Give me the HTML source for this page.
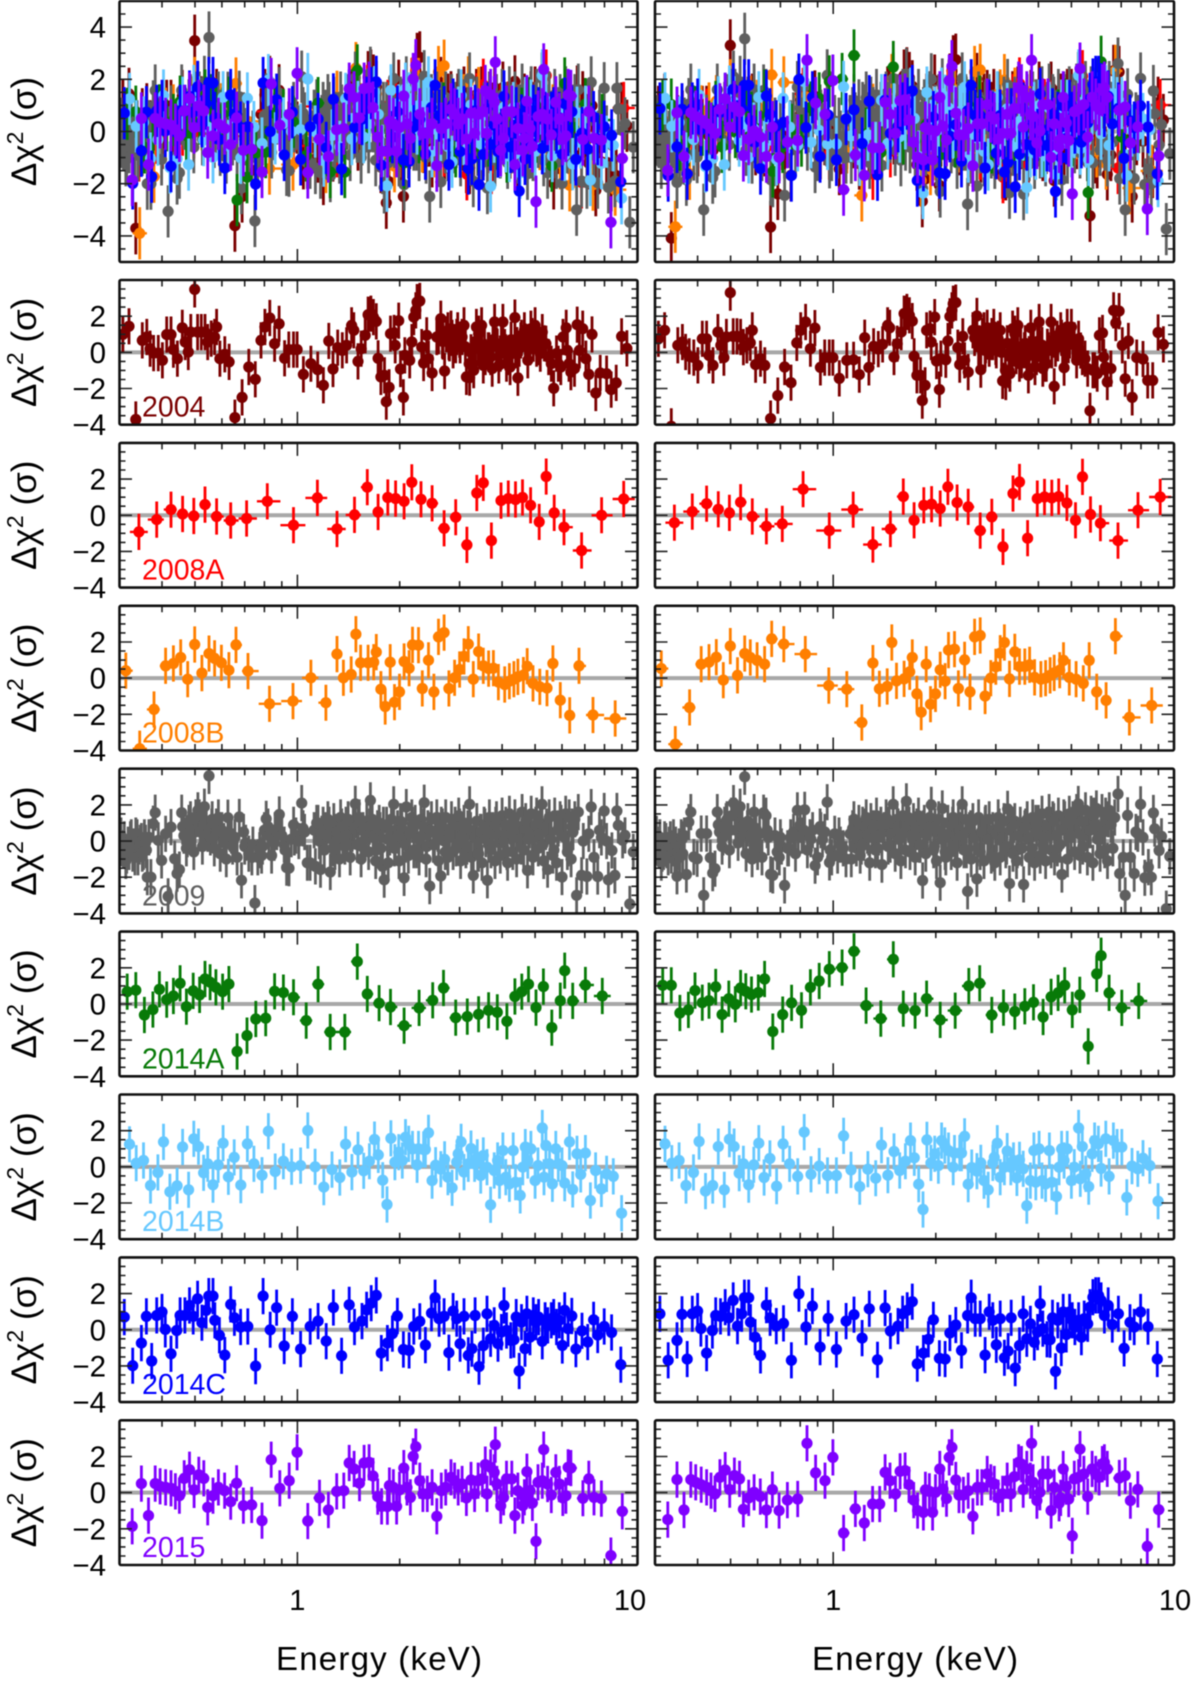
<!DOCTYPE html>
<html lang="en">
<head>
<meta charset="utf-8">
<title>Residuals by epoch</title>
<style>
html,body{margin:0;padding:0;background:#fff;width:1200px;height:1684px;overflow:hidden}
svg{display:block;filter:blur(.6px)}
text{font-family:"Liberation Sans","DejaVu Sans",sans-serif}
</style>
</head>
<body>
<svg id="chart" xmlns="http://www.w3.org/2000/svg" width="1200" height="1684" viewBox="0 0 1200 1684">
<text x="379" y="1670" font-size="33" text-anchor="middle" textLength="206" fill="#000">Energy (keV)</text>
<text x="915" y="1670" font-size="33" text-anchor="middle" textLength="206" fill="#000">Energy (keV)</text>
</svg>
<script>
const energies2004=[.307,.320,.335,.350,.361,.369,.378,.390,.401,.413,
.425,.432,.444,.459,.468,.478,.486,.499,.509,.522,
.535,.545,.558,.571,.579,.592,.612,.630,.655,.688,
.720,.752,.782,.803,.830,.857,.884,.917,.944,.974,
.998,1.042,1.096,1.148,1.193,1.237,1.273,1.314,1.356,1.396,
1.444,1.465,1.508,1.541,1.583,1.614,1.645,1.673,1.706,1.727,
1.760,1.804,1.826,1.861,1.879,1.925,1.939,1.986,2.01,2.05,
2.07,2.14,2.17,2.20,2.23,2.25,2.29,2.32,2.35,2.40,
2.43,2.49,2.57,2.64,2.71,2.77,2.83,2.89,2.96,3.01,
3.09,3.14,3.21,3.30,3.36,3.41,3.48,3.57,3.64,3.74,
3.80,3.85,3.95,4.02,4.12,4.22,4.36,4.38,4.45,4.54,
4.65,4.76,4.86,5.00,5.10,5.25,5.38,5.48,5.67,5.85,
6.04,6.17,6.22,6.37,6.53,6.65,6.75,6.90,7.05,7.19,
7.35,7.54,7.77,8.11,8.37,8.66,8.98,9.31,
2.67,2.79,2.87,2.94,3.05,3.20,3.28,3.40,3.52,3.70,
3.91,4.07,4.17,4.28,4.49,4.71,4.83,4.94,5.18,5.58,
5.78,5.95,6.29,
2.60,2.68,2.74,2.80,2.85,2.92,3.00,3.12,3.24,3.34,
3.44,3.55,3.66,3.76,3.87,3.98,4.10,4.25,4.42,4.56,
4.68,4.90,5.05,5.32];
const left2004=[.99,1.44,-3.71,.66,.85,.20,-.04,-.04,-.44,.98,
.98,.15,-.35,1.36,.57,.02,1.12,3.48,1.12,1.12,
1.12,.57,.76,.85,1.40,-.35,-.11,-.53,-3.61,-2.49,
-.81,-1.49,.66,1.40,1.90,.48,1.58,-.33,.15,.15,
.15,-1.22,-.63,-.96,-1.82,.63,-.92,.26,.11,.39,
1.49,1.22,-.50,.20,.94,2.08,2.14,1.95,1.71,-.33,
-1.36,-1.27,-2.73,-1.93,1.03,1.07,.39,1.75,-.92,-2.49,
-.17,-.44,.57,1.95,2.32,2.78,2.84,.29,-.59,.94,
-.35,-1.14,.85,1.86,-1.03,1.22,1.31,.57,1.22,.39,
1.49,-1.36,-1.40,-.99,1.40,1.03,1.49,-.26,.11,-.90,
1.68,.39,-.07,1.68,-.63,-.81,1.92,.11,-1.41,.66,
1.22,-.44,1.31,1.49,.29,1.12,.48,-.26,-1.99,-.63,
.85,1.36,.11,-1.09,-.90,1.53,.11,1.31,-.35,-1.22,
.99,-2.25,-1.14,-1.18,-2.06,-1.69,.88,.22,
.66,.57,.11,.85,.85,-.63,-.63,.29,-.72,-.26,
-.72,.29,-.26,-.07,.20,.57,.29,.48,-.07,-.63,
-.07,-.81,-.63,
.9,.6,1.0,.5,.8,.4,.7,.3,0,.6,
.2,.4,.1,.7,.3,.5,0,.7,.4,.8,
.6,.9,.2,.5];
const right2004=[.75,1.22,-4.09,.39,.57,.02,-.22,-.29,-.72,.75,
.75,-.17,-.72,1.12,.39,-.29,.85,3.30,.88,.88,
.85,.29,.39,.53,1.22,-.68,-.35,-.72,-3.66,-2.39,
-.81,-1.68,.52,1.22,1.68,.20,1.34,-.83,-.29,-.29,
-.29,-1.44,-.44,-.41,-1.23,.81,-.83,.33,.18,.44,
1.49,1.36,-.26,.48,1.12,2.14,2.23,2.05,1.73,-.22,
-1.27,-1.27,-2.67,-1.82,1.22,1.31,.57,1.95,-.48,-2.06,
-.35,-.41,.63,1.99,2.32,2.69,2.75,.26,-.68,.88,
-.44,-1.09,1.22,2.01,-.96,1.22,1.36,.57,1.40,.11,
1.22,-1.58,-1.64,-1.18,1.31,1.03,1.49,-.44,.11,-1.27,
1.36,.39,-.26,1.68,-.90,-.63,1.68,.11,-1.88,.75,
1.22,-.85,1.40,1.40,.66,.75,-.26,-.35,-3.23,-.99,
.94,1.07,-.26,-1.64,-.90,2.32,1.62,2.28,.39,-1.46,
.63,-2.49,-.29,-.37,-1.55,-1.55,1.10,.44,
.29,.11,.20,.57,.75,-.99,-.99,.20,-.63,-.26,
-.81,.20,-.63,.11,.20,.29,.39,.66,-.44,-.90,
-.99,-1.18,-.81,
.8,.5,.9,.4,.6,.9,.3,0,.5,.1,
-.2,.3,.5,-.1,.2,.6,.4,.3,.7,.5,
.8,.4,.6,.1];

const energies2008A=[.342,.386,.425,.460,.496,.535,.579,.637,.709,.816,
.974,1.145,1.308,1.472,1.606,1.727,1.844,1.944,2.06,2.17,
2.31,2.49,2.70,2.92,3.15,3.37,3.52,3.72,3.97,4.17,
4.38,4.59,4.85,5.14,5.39,5.69,6.08,6.85,7.84,9.11];
const left2008A=[-.92,-.24,.31,.07,-.04,.59,-.07,-.29,-.18,.77,
-.55,.96,-.76,.02,1.55,.18,.98,.92,.77,1.82,
.88,.66,-.72,-.11,-1.64,1.23,1.79,-1.40,.81,.92,
.87,.98,.55,-.37,2.14,.13,-.66,-1.95,0,.90];
const right2008A=[-.41,.20,.64,.33,.13,.72,-.07,-.61,-.48,1.44,
-.85,.31,-1.62,-.76,1.03,-.28,.55,.61,.37,1.57,
.70,.46,-.85,-.09,-1.75,1.20,1.84,-1.27,.92,1.01,
.96,1.03,.68,-.28,2.12,.04,-.44,-1.40,.28,1.01];

const energies2008B=[.313,.344,.379,.410,.432,.454,.476,.499,.524,.550,
.571,.598,.629,.660,.716,.828,.971,1.096,1.213,1.308,
1.366,1.440,1.486,1.534,1.614,1.677,1.706,1.760,1.812,1.875,
1.930,1.996,2.06,2.13,2.18,2.27,2.33,2.43,2.52,2.60,
2.70,2.79,2.90,3.00,3.09,3.18,3.29,3.41,3.52,3.65,
3.77,3.90,4.07,4.20,4.33,4.45,4.62,4.74,4.93,5.16,
5.42,5.64,5.93,6.32,6.73,7.40,8.60];
const left2008B=[.41,-3.90,-1.73,.68,.81,1.14,-.06,1.86,.28,1.36,
1.09,.85,.44,1.84,.39,-1.42,-1.27,.02,-1.36,1.33,
.02,.20,2.43,.85,.85,.88,1.44,-.61,-1.57,.88,
-1.33,-.76,.92,.55,1.84,1.82,-.57,.99,-.76,2.28,
2.52,-.57,.02,.48,1.20,1.88,-.06,1.47,.68,.53,
.55,-.22,-.35,-.17,-.06,.07,.17,.66,-.29,-.48,
-.55,.81,-1.22,-2.06,.68,-2.04,-2.23];
const right2008B=[.53,-3.65,-1.62,.77,.88,1.16,-.11,1.77,.15,1.36,
1.14,.98,.77,2.17,1.88,1.33,-.41,-.61,-2.45,.83,
-.59,-.46,1.97,-.15,-.04,.35,1.14,-.87,-1.88,.77,
-1.44,-.87,.46,-.17,1.55,1.60,-.57,1.01,-.76,2.28,
2.36,-.99,0,.63,1.38,1.97,-.04,1.45,.64,.64,
.74,.04,-.06,0,.15,.29,.44,.98,.04,-.06,
-.29,.98,-.76,-1.23,2.32,-2.17,-1.51];

const energies2009=[.303,.308,.313,.318,.323,.328,.333,.338,.343,.348,.353,.358,.362,.366,.371,
.377,.382,.39,.399,.41,.417,.425,.436,
.443,.45,.457,.464,.472,.48,.488,.496,.503,.51,
.518,.526,.533,.54,.55,.555,.562,.57,.578,.586,
.593,.6,.608,.618,
.625,.635,.645,.655,.665,.675,.685,.695,.705,.72,
.735,.75,.765,.775,.785,.8,.81,.825,.84,.855,
.87,.885,.9,.915,.93,.945,.96,.975,.99,1.01,
1.03,1.05,1.07,1.09,
1.12,1.13,1.15,1.16,1.17,1.19,1.20,1.22,1.23,1.25,
1.26,1.28,1.29,1.31,1.33,1.34,1.36,1.38,1.39,1.41,
1.43,1.45,1.46,1.48,1.50,1.52,1.54,1.56,1.58,1.60,
1.62,1.64,1.66,1.68,1.70,1.72,1.74,1.76,1.78,1.80,
1.83,1.85,1.87,1.89,1.92,1.94,1.97,1.99,2.01,2.04,
2.06,2.09,2.12,2.14,2.17,2.20,2.22,2.25,2.28,2.31,
2.33,2.36,2.39,2.42,2.45,2.48,2.51,2.54,2.57,2.60,
2.64,2.67,2.70,2.73,2.77,2.80,2.84,2.87,2.91,2.94,
2.98,3.02,3.05,3.09,3.13,3.17,3.21,3.25,3.29,3.33,
3.37,3.41,3.45,3.49,3.54,3.58,3.62,3.67,3.71,3.76,
3.81,3.85,3.90,3.95,4.00,4.05,4.10,4.15,4.20,4.25,
4.30,4.36,4.41,4.46,4.52,4.58,4.63,4.69,4.75,4.81,
4.87,4.93,4.99,5.05,5.11,5.18,5.24,5.30,5.37,5.44,
5.50,5.57,5.64,5.71,5.78,5.85,5.92,6.00,6.07,6.15,
6.22,6.30,6.38,6.46,6.54,6.62,6.70,
6.85,6.93,7.10,7.19,7.31,7.45,7.64,7.73,7.83,7.98,
8.11,8.21,8.41,8.58,8.70,8.78,9.04,9.19,9.49,9.72,
.305,.31,.315,.32,.325,.33,.335,.34,.345,.35,.355,.36,
.46,.475,.485,.5,.515,.53,.545,.56,.575,.59,
.64,.70,.74,.79,.82,.86,.92,.98,1.04,
1.14,1.18,1.21,1.24,1.27,1.30,1.35,1.40,1.44,1.47,
1.51,1.55,1.59,1.63,1.67,1.71,1.75,1.79,1.84,1.88,
1.93,1.98,2.03,2.08,2.13,2.18,2.24,2.30,2.35,2.40,
2.46,2.53,2.59,2.65,2.72,2.79,2.86,2.93,3.00,3.07,
3.15,3.23,3.31,3.39,3.47,3.56,3.65,3.74,3.83,3.93,
4.03,4.13,4.23,4.33,4.44,4.55,4.66,4.78,4.90,5.02,
5.15,5.27,5.40,5.54,5.68,5.82,5.96,6.11,6.26,6.42];
const left2009=[.3,-.5,-1.1,-.2,.1,-.7,-.9,.2,-.3,0,-.6,-.1,-2.0,.2,-2.0,
.96,1.57,.04,-1.07,.4,-3.06,.77,-.98,
-1.8,-1.58,1.57,.3,-.4,1.0,.6,-.6,1.3,1.7,
.5,-.3,1.9,.9,3.6,.2,1.2,-.4,.8,1.3,
-.7,.6,0,-1.0,
1.29,.4,-.3,.2,-.9,1.33,-2.17,.5,-.1,-.7,
-.9,-3.43,-.9,-.5,-.8,.6,1.23,.3,-.8,-.1,
.5,1.47,.3,-.2,-1.47,-1.5,.1,.9,.3,0,
2.1,.5,-1.2,-1.2,
.6,-1.4,1.0,0,-1.58,.9,-.5,.3,1.2,-1.71,
.1,1.1,-.6,.5,-1.0,1.3,.2,-.3,.9,1.2,
-.9,.4,1.0,2.06,-.2,1.3,-1.0,.6,.1,1.1,
-.6,2.25,1.2,.3,-1.1,.7,1.0,-.4,-1.4,-2.14,
.9,-1.2,.2,1.2,2.03,-.3,.7,-1.1,1.1,.1,
-2.04,1.88,-.8,.4,1.3,-.5,1.0,.2,-.9,1.2,
.3,2.12,-1.0,.7,-2.49,1.2,-.2,.5,1.3,-1.1,
-1.93,.8,0,1.3,-.9,.4,1.2,-.6,.9,-.2,
1.4,-1.1,.3,1.0,-.5,.7,2.03,-.9,-1.9,.2,
1.1,-.7,.5,-1.2,.9,.1,-2.17,1.3,-.5,.6,
-1.1,1.2,.3,-.8,1.4,0,.9,-1.2,1.5,.4,
-.6,1.3,-1.0,.8,.1,1.6,-.5,1.1,-1.62,.6,
1.5,-.9,.2,1.4,-.4,1.0,2.03,-1.1,.5,-1.58,
1.3,.1,-.8,1.4,-1.2,.7,1.2,-1.99,.3,1.5,
-.6,1.3,-1.0,.5,1.2,-3.0,1.6,
-1.9,0,-1.96,.4,1.88,-.9,-1.96,.6,.2,1.66,
0,-2.14,-.52,-1.9,1.66,.87,.04,.31,-3.48,-.6,
-.4,.1,-.8,-.6,.2,-.3,.3,-.9,-.1,-.7,.2,-.5,
.8,.1,1.2,.5,1.3,.9,.4,.8,.3,.6,
.3,-.3,-.2,-.3,.8,.6,-.5,.2,.7,
1.0,.4,.6,.9,-.4,.5,.8,.3,-.2,.7,
.9,-.3,.4,.8,.2,-.5,.6,.9,.1,.5,
-.4,.3,.7,-.2,.5,.9,-.5,.2,.8,-.3,
.6,-.2,.4,.9,-.6,.2,.5,-.4,.8,.1,
-.3,.6,.2,-.7,.5,.8,-.2,.4,.9,-.1,
.3,-.6,.8,.2,.5,-.3,.7,.1,-.8,.9,
.4,-.2,.8,.1,-.5,.6,1.0,.2,-.4,.8];
const right2009=[.4,-.4,-1.2,-.6,0,-.9,.1,-.4,-1.1,-1.95,-.3,.2,-.7,.3,-1.85,
1.05,1.6,-.88,-.98,.41,-3.0,.41,-.92,
-1.77,-1.53,1.6,.5,-.3,.9,1.2,-.5,1.4,2.1,
.6,-.1,1.9,.8,3.55,-.7,1.1,.3,-1.0,1.6,
.7,-.6,.4,-.9,
1.57,1.4,.2,-1.84,-1.9,.3,-.6,-.9,-.3,-2.45,
-.4,.2,.5,-.7,1.7,.9,.3,1.73,-.5,.2,
.6,-1.36,-.9,.8,.1,.5,2.15,-1.18,-.9,.4,
-.8,-.2,-.4,-1.0,
.4,-1.0,1.2,.5,-.4,1.0,-.8,.9,-.1,1.3,
.3,-1.2,1.1,.7,-.5,1.4,.2,.9,-1.3,.6,
1.3,-.3,.9,.4,2.03,-.7,1.2,.1,-1.1,1.4,
.5,2.2,1.3,-.6,.3,1.1,-.9,.8,1.4,-.2,
-2.18,1.0,-.7,.4,1.3,2.0,-.5,.8,-1.1,1.2,
-2.3,1.8,.3,-.9,1.0,.2,-.6,1.3,0,-1.2,
.9,.3,2.03,-.5,1.2,-2.78,.6,-1.0,1.1,.2,
-2.09,1.3,-.6,.5,-1.1,1.0,.1,1.2,-.8,.6,
-1.2,.4,1.3,-.9,0,1.1,-.5,1.78,-2.35,.7,
-.7,1.1,-1.1,.3,.9,-.4,-2.4,.8,1.2,-.9,
.2,1.3,-1.2,.5,1.0,-.8,1.5,.2,-1.1,.9,
1.6,-.5,1.2,-.9,.3,1.4,-.2,-1.85,1.3,.7,
-1.0,1.5,.4,1.2,-.6,1.6,2.05,-.8,1.1,.3,
1.7,-.9,.6,1.5,-1.2,.9,1.8,.2,-.7,1.6,
.5,1.4,-1.1,1.7,.9,-.4,1.3,
2.6,-1.8,-.9,-3.0,1.42,-.9,-1.8,.5,.4,2.03,
.2,-2.03,-1.44,-2.0,1.55,.68,-.52,.26,-3.74,-.85,
-.2,.2,-.7,.1,-.5,-.2,-.8,.2,-.2,-.6,-.9,.1,
.9,.2,1.1,.6,1.4,1.0,.3,.7,.2,-.2,
.6,.2,-.4,.3,.6,.1,.6,-.5,.3,
.7,.1,-.3,.8,.2,.6,-.4,.5,.9,-.2,
.4,.8,.3,-.5,.9,.1,.5,-.2,.7,.3,
.8,-.3,.5,.1,-.6,.4,.9,-.2,.6,.3,
-.5,.7,.2,-.4,.5,.9,.1,-.7,.4,.8,
.2,-.3,.6,.9,-.5,.3,.7,.1,-.4,1.0,
.5,-.2,.8,.3,1.1,-.4,.6,1.2,.2,.9,
1.3,.4,-.3,1.0,.6,1.4,.1,.8,-.5,1.2];

const energies2014A=[.316,.335,.355,.376,.393,.413,.432,.452,.472,.494,
.516,.535,.554,.576,.603,.629,.665,.711,.755,.807,
.857,.910,.974,1.062,1.151,1.249,1.379,1.501,1.606,1.739,
1.879,2.06,2.28,2.50,2.69,2.92,3.16,3.41,3.65,3.87,
4.13,4.36,4.57,4.78,5.03,5.29,5.60,5.93,6.11,6.45,
7.03,7.88];
const left2014A=[.68,.76,-.61,-.31,.81,.24,.44,1.14,-.15,.72,
.50,1.38,1.20,.92,.68,1.10,-2.63,-1.75,-.83,-.79,
.70,.63,.37,-.92,1.09,-1.55,-1.55,2.34,.55,.04,
-.17,-1.20,-.22,.20,.88,-.76,-.70,-.57,-.35,-.46,
-.96,.41,.68,1.09,-.20,.96,-1.31,.18,1.84,.17,
1.05,.44];
const right2014A=[1.03,1.03,-.50,-.33,.74,.07,.18,.94,-.59,.29,
-.02,.88,.70,.52,.63,1.38,-1.53,-.59,.06,-.35,
.92,1.27,1.92,2.01,2.91,-.09,-.81,2.47,-.26,-.37,
.29,-.88,-.37,.99,1.14,-.61,-.20,-.42,-.13,.09,
-.72,.39,.61,1.03,-.33,.50,-2.34,1.66,2.67,.61,
-.22,.17];

const energies2014B=[.321,.336,.353,.370,.389,.404,.422,.443,.460,.479,
.496,.512,.530,.545,.565,.585,.605,.627,.652,.682,
.713,.745,.787,.822,.861,.910,.962,1.022,1.073,1.128,
1.196,1.264,1.333,1.386,1.447,1.508,1.567,1.629,1.686,1.730,
1.782,1.835,1.884,1.935,1.986,2.035,2.08,2.125,2.18,2.25,
2.27,2.35,2.38,2.43,2.49,2.55,2.64,2.71,2.77,2.85,
2.94,2.97,3.03,3.09,3.18,3.24,3.32,3.38,3.46,3.52,
3.61,3.70,3.79,3.88,3.93,4.02,4.10,4.20,4.31,4.38,
4.52,4.60,4.68,4.76,4.86,5.00,5.10,5.25,5.31,5.38,
5.51,5.62,5.75,5.85,6.00,6.11,6.31,6.45,6.64,6.81,
7.03,7.27,7.53,7.83,8.11,8.49,8.98];
const left2014B=[1.25,.20,.35,-1.03,-.31,1.38,-1.38,-1.05,1.10,-1.27,
1.55,1.12,-.33,.17,-.99,.11,1.31,-.55,.52,-1.01,
1.27,.17,-.46,1.97,-.26,.31,0,.07,2.01,0,
-1.12,-.15,-.59,1.25,-.29,.94,-.22,.31,1.51,.66,
-.74,-2.08,1.58,.26,.81,.35,1.64,1.27,.99,.11,
.99,.96,.96,1.88,-.76,.09,-.13,.41,-.57,-1.16,
.26,.72,1.38,-.29,.17,1.01,.17,.53,-.48,.63,
-.02,-2.10,-.20,.35,-.76,.90,-.57,-.94,.90,-.85,
-1.58,-.02,1.09,.35,.99,-.76,.07,2.15,-.57,1.18,
.17,-.94,.99,.17,.07,-.90,1.38,-1.25,.72,-.42,
.76,-1.86,-.20,-1.22,-.39,-.53,-2.56];
const right2014B=[1.27,.20,.35,-1.03,-.31,1.40,-1.34,-1.03,1.12,-1.27,
1.53,1.12,-.35,.17,-.99,.11,1.31,-.59,.46,-1.07,
1.27,.17,-.53,1.92,-.41,.04,-.48,-.48,1.71,-.17,
-1.09,-.13,-.63,1.20,-.46,.85,-.20,.31,1.45,.50,
-.96,-2.36,1.49,.22,.72,.07,1.45,1.18,.90,-.02,
.76,.76,.76,1.69,-.96,-.04,-.24,.22,-.76,-1.27,
.22,.53,1.31,-.57,-.02,.87,-.02,.35,-.61,.39,
-.11,-2.15,-.76,.90,-.85,.99,-.76,-.94,.90,-.85,
-1.64,-.02,.99,.35,.99,-.76,-.02,2.15,-.66,1.12,
-.39,-1.09,.72,1.45,1.27,-.09,1.55,-.53,1.45,1.09,
1.09,-1.69,.04,-.11,.48,.07,-1.90];

const energies2014C=[.310,.328,.348,.360,.373,.386,.400,.409,.425,.442,
.452,.467,.482,.494,.509,.524,.539,.549,.565,.572,
.590,.612,.637,.653,.681,.715,.754,.793,.832,.869,
.915,.967,1.022,1.091,1.151,1.216,1.276,1.349,1.420,1.472,
1.549,1.598,1.649,1.706,1.765,1.839,1.903,1.968,2.05,2.13,
2.20,2.29,2.38,2.48,2.54,2.61,2.70,2.79,2.87,2.94,
3.01,3.09,3.18,3.26,3.33,3.42,3.52,3.61,3.70,3.79,
3.89,3.98,4.05,4.12,4.24,4.33,4.40,4.49,4.56,4.67,
4.73,4.83,4.94,5.03,5.12,5.25,5.35,5.45,5.58,5.67,
5.78,5.89,6.01,6.11,6.25,6.41,6.59,6.87,7.14,7.43,
7.64,7.98,8.39,8.93];
const left2014C=[.70,-1.99,-.74,.74,-1.73,.79,.98,.02,-1.33,-.04,
.79,.79,1.34,.74,1.71,.39,1.07,1.86,1.86,.52,
-.31,-1.40,1.40,.66,.15,.18,-2.01,1.86,0,1.22,
-.90,.74,-1.07,.18,.48,-.63,1.23,-1.44,1.38,.15,
.48,1.10,1.47,1.90,-1.29,-.74,-.22,.76,-1.09,-1.14,
.18,.46,-.85,.92,1.77,.61,.74,-1.27,1.03,.61,
-.77,.74,-1.42,-1.05,.79,-2.04,-.88,.88,-.50,.24,
-.77,-.13,1.34,-.04,-.59,-.55,.70,-2.28,.42,-1.05,
.88,-.41,.79,.42,.70,-.64,.52,.24,.52,.70,
.15,.52,-.87,1.07,.06,.76,-1.07,-.06,-.68,.55,
-.29,.18,-.15,-1.93];
const right2014C=[.88,-1.69,-.59,.85,-1.62,.88,1.03,.07,-1.29,-.04,
.79,.74,1.25,.66,1.62,.20,.88,1.77,1.77,.42,
-.41,-1.42,1.36,.66,.20,.35,-1.69,1.99,.15,1.31,
-.96,.63,-1.09,.48,.83,-.46,1.16,-1.66,1.20,-.07,
.20,.88,1.07,1.55,-1.88,-1.29,-.53,.55,-1.58,-1.62,
-.18,.26,-1.14,.79,1.77,.61,.61,-1.40,.99,.52,
-.83,.61,-1.55,-1.18,.66,-2.12,-.87,.88,-.50,.33,
-.70,-.13,1.44,.06,-.53,-.55,.66,-2.30,.52,-1.01,
.98,-.26,.98,.52,.15,.52,-.41,.61,.33,1.25,
1.80,1.90,1.90,1.62,.79,1.34,.29,.88,-1.03,.41,
.15,.98,.17,-1.62];

const energies2015=[.327,.348,.365,.382,.395,.410,.425,.438,.450,.465,
.482,.497,.513,.531,.545,.565,.586,.611,.637,.663,
.694,.734,.787,.838,.888,.946,.998,1.073,1.162,1.234,
1.305,1.369,1.420,1.468,1.523,1.571,1.625,1.669,1.723,1.769,
1.839,1.865,1.916,1.958,1.996,2.055,2.10,2.15,2.19,2.23,
2.29,2.34,2.41,2.49,2.57,2.65,2.73,2.83,2.90,2.97,
3.05,3.14,3.24,3.32,3.40,3.50,3.57,3.61,3.70,3.79,
3.82,3.86,3.96,4.04,4.12,4.27,4.36,4.45,4.60,4.65,
4.73,4.83,4.91,5.03,5.10,5.25,5.30,5.44,5.58,5.75,
5.89,6.03,6.16,6.25,6.37,6.91,7.19,7.45,7.83,8.35,
9.02];
const left2015=[-1.86,.50,-1.27,.50,.35,.29,.24,.07,-.17,.79,
1.27,.15,.98,.79,-.81,-.17,.29,.11,-.50,.52,
-.72,-.68,-1.55,1.82,.24,.66,2.23,-1.57,-.29,-.96,
.07,.11,1.64,1.31,.52,1.64,1.68,.92,-.22,-.76,
-.77,.39,.29,-.76,.15,1.36,.29,-.26,2.01,2.54,
.66,-.07,-.07,.29,-1.31,.11,.29,.85,.66,.29,
.48,-.29,.70,-.07,.66,.76,1.55,-.07,1.40,1.12,
2.65,.48,-.72,-.26,.76,.76,-1.27,.11,-.72,-.26,
1.16,.11,-.57,-2.69,.57,.66,2.38,.48,-.13,1.12,
.48,-.29,-.17,1.40,1.36,-.31,.76,-.26,-.33,-3.48,
-1.03];
const right2015=[-1.49,.72,-.96,.72,.57,.44,.29,.11,-.07,.85,
1.25,.17,.94,.76,-.92,-.29,.02,-.22,-.96,.17,
-.99,-.41,-.35,2.73,1.09,.66,1.95,-2.23,-.90,-1.68,
-.63,-.63,1.12,.66,-.07,1.18,1.22,.44,-.41,-.99,
-1.09,.15,.07,-1.09,.02,1.31,.20,-.33,1.95,2.50,
.70,-.13,-.13,.11,-1.31,.29,.29,1.03,.57,.48,
-.29,-.07,.66,-.07,.88,1.68,1.58,.17,1.31,.66,
2.73,.57,-.44,.02,1.03,1.03,-.99,.29,-.59,-.29,
1.31,.33,-.35,-2.39,.76,.85,2.41,1.03,-.22,1.31,
1.03,.85,1.58,1.68,1.31,.81,.94,-.44,.18,-2.97,
-.94];

const epochNames=["2004","2008A","2008B","2009","2014A","2014B","2014C","2015"];
const epochColors=["#7a0000","#ff0000","#ff7f00","#5f5f5f","#087a08","#66c8ff","#0000ff","#7f00ff"];
const epochEnergies=[energies2004,energies2008A,energies2008B,energies2009,energies2014A,energies2014B,energies2014C,energies2015];
const epochLeft=[left2004,left2008A,left2008B,left2009,left2014A,left2014B,left2014C,left2015];
const epochRight=[right2004,right2008A,right2008B,right2009,right2014A,right2014B,right2014C,right2015];
const xMinorTicks=[.4,.5,.6,.7,.8,.9,2,3,4,5,6,7,8,9];
const xMajorTicks=[1];
const xTickLabels=["1","10"];
const topYTicks=[4,2,0,-2,-4];
const subYTicks=[2,0,-2,-4];
const errorSigma=1;

const NS="http://www.w3.org/2000/svg";
const svg=document.getElementById("chart");
const columns=[{left:119.5,width:518},{left:655,width:519}];
const E_MIN=.3,E_MAX=10;
const panels=[{top:1,height:261,range:5}];
for(let i=0;i<8;i++){panels.push({top:280+162.9*i,height:144.7,range:4});}

function xAxis(col,e){return col.left+Math.log10(e/E_MIN)/Math.log10(E_MAX/E_MIN)*col.width;}
function yAxis(p,v){return p.top+p.height/2-v*(p.height/(2*p.range));}
function make(tag,attrs,parent){
  const el=document.createElementNS(NS,tag);
  for(const k in attrs){el.setAttribute(k,attrs[k]);}
  parent.appendChild(el);
  return el;
}

function drawSeries(parent,col,p,idx,values){
  const g=make("g",{fill:epochColors[idx],stroke:"none"},parent);
  
  
  const energies=epochEnergies[idx];
  const order=energies.map((_,i)=>i).sort((a,b)=>energies[a]-energies[b]);
  order.forEach((i,pos)=>{
    const e=energies[i],v=values[i];
    const prev=pos>0?energies[order[pos-1]]:e*e/energies[order[pos+1]];
    const next=pos<order.length-1?energies[order[pos+1]]:e*e/energies[order[pos-1]];
    const x=xAxis(col,e),y=yAxis(p,v);
    const x0=xAxis(col,Math.sqrt(prev*e)),x1=xAxis(col,Math.sqrt(next*e));
    const y0=yAxis(p,v+errorSigma),y1=yAxis(p,v-errorSigma);
    const bar=make("path",{d:"M"+x.toFixed(1)+" "+y0.toFixed(1)+"V"+y1.toFixed(1),stroke:epochColors[idx],"stroke-width":2.8,fill:"none"},g);
    
    
    const hbar=make("path",{d:"M"+x0.toFixed(1)+" "+y.toFixed(1)+"H"+x1.toFixed(1),stroke:epochColors[idx],"stroke-width":2.4,fill:"none"},g);
    
    
    const dot=make("circle",{cx:x.toFixed(1),cy:y.toFixed(1),r:5.6},g);
    
    
  });
}

panels.forEach((p,pi)=>{
  columns.forEach((col,ci)=>{
    const panel=make("g",{},svg);
    
    
    const clipId="clip-"+pi+"-"+ci;
    const defs=make("defs",{},panel);
    const cp=make("clipPath",{id:clipId},defs);
    make("rect",{x:col.left,y:p.top,width:col.width,height:p.height},cp);
    const data=make("g",{"clip-path":"url(#"+clipId+")"},panel);
    const zero=make("line",{x1:col.left,x2:col.left+col.width,y1:yAxis(p,0),y2:yAxis(p,0),stroke:"#a8a8a8","stroke-width":4},data);
    
    
    if(pi===0){
      for(let s=0;s<8;s++){drawSeries(data,col,p,s,ci===0?epochLeft[s]:epochRight[s]);}
    }else{
      drawSeries(data,col,p,pi-1,ci===0?epochLeft[pi-1]:epochRight[pi-1]);
    }
    const ticks=make("g",{stroke:"#222","stroke-width":1.6,fill:"none"},panel);
    
    
    const bottom=p.top+p.height;
    let d="";
    xMinorTicks.forEach(t=>{const x=xAxis(col,t).toFixed(1);d+="M"+x+" "+p.top+"v6.5M"+x+" "+bottom+"v-6.5";});
    xMajorTicks.forEach(t=>{const x=xAxis(col,t).toFixed(1);d+="M"+x+" "+p.top+"v13M"+x+" "+bottom+"v-13";});
    for(let v=-p.range;v<=p.range+.001;v+=.5){
      const y=yAxis(p,v).toFixed(1);
      const len=Math.abs(v%2)<.001?12.5:6;
      d+="M"+col.left+" "+y+"h"+len+"M"+(col.left+col.width)+" "+y+"h-"+len;
    }
    make("path",{d:d},ticks);
    const frame=make("rect",{x:col.left,y:p.top,width:col.width,height:p.height,rx:1.5,fill:"none",stroke:"#111","stroke-width":2.6},panel);
    
    
    if(ci===0){
      const labels=pi===0?topYTicks:subYTicks;
      labels.forEach(v=>{
        const t=make("text",{x:106,y:yAxis(p,v)+10.5,"font-size":29.5,"text-anchor":"end",fill:"#000"},panel);
        
        
        t.textContent=v<0?"\u2212"+Math.abs(v):String(v);
      });
      const title=make("text",{transform:"translate(36 "+(p.top+p.height/2)+") rotate(-90)","font-size":35,"text-anchor":"middle",fill:"#000"},panel);
      
      
      const a=make("tspan",{},title);a.textContent="\u0394\u03c7";
      const b=make("tspan",{dy:-13,"font-size":23},title);b.textContent="2";
      const c=make("tspan",{dy:13},title);c.textContent=" (\u03c3)";
      if(pi>0){
        const yl=make("text",{x:142,y:bottom-8,"font-size":28.5,fill:epochColors[pi-1]},panel);
        
        
        yl.textContent=epochNames[pi-1];
      }
    }
  });
});

columns.forEach((col,ci)=>{
  const one=make("text",{x:xAxis(col,1),y:1610,"font-size":29,"text-anchor":"middle",fill:"#000"},svg);
  
  
  one.textContent=xTickLabels[0];
  const ten=make("text",{x:ci===0?630:1175,y:1610,"font-size":29,"text-anchor":"middle",fill:"#000"},svg);
  
  
  ten.textContent=xTickLabels[1];
});
</script>
</body>
</html>
